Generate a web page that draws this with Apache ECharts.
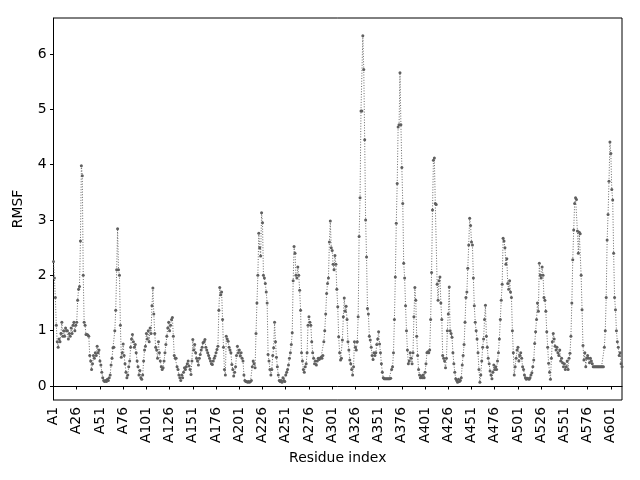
<!DOCTYPE html>
<html>
<head>
<meta charset="utf-8">
<title>RMSF</title>
<script src="https://cdn.jsdelivr.net/npm/echarts@6/dist/echarts.min.js"></script>
<style>
  html, body { margin: 0; padding: 0; background: #fff; }
  #chart { width: 640px; height: 480px; }
</style>
</head>
<body>
<div id="chart"></div>
<script>
// RMSF per residue, residues A1 .. A613 (index 0 .. 612)
var rmsf = [
  2.25, 1.95, 1.6, 1.1, 0.8, 0.7, 0.85, 0.8, 0.95, 1.15,
  0.9, 1.0, 0.9, 1.05, 1.0, 1.0, 0.85, 0.95, 0.9, 1.05,
  0.95, 1.1, 1.15, 1.0, 1.1, 1.15, 1.55, 1.75, 1.8, 2.62,
  3.98, 3.8, 2.0, 1.15, 1.1, 0.93, 0.93, 0.92, 0.9, 0.55,
  0.45, 0.3, 0.4, 0.55, 0.5, 0.6, 0.55, 0.72, 0.6, 0.65,
  0.45, 0.38, 0.25, 0.15, 0.1, 0.08, 0.1, 0.08, 0.12, 0.1,
  0.15, 0.2, 0.38, 0.5, 0.69, 0.7, 1.0, 1.37, 2.1, 2.84,
  2.1, 2.0, 1.1, 0.52, 0.6, 0.76, 0.55, 0.4, 0.25, 0.15,
  0.2, 0.35, 0.45, 0.7, 0.85, 0.93, 0.8, 0.7, 0.75, 0.6,
  0.45, 0.35, 0.2, 0.28, 0.15, 0.12, 0.2, 0.45, 0.65, 0.72,
  0.95, 0.85, 1.0, 0.8, 1.05, 0.95, 1.45, 1.77, 1.3, 0.95,
  0.7, 0.65, 0.5, 0.8, 0.6, 0.45, 0.35, 0.3, 0.33, 0.45,
  0.6, 0.75, 0.9, 1.05, 1.15, 1.0, 1.1, 1.2, 1.24, 0.9,
  0.55, 0.5, 0.5, 0.35, 0.3, 0.2, 0.15, 0.1, 0.2, 0.15,
  0.25, 0.33, 0.3, 0.35, 0.4, 0.45, 0.36, 0.3, 0.21, 0.45,
  0.84, 0.65, 0.75, 0.6, 0.5, 0.45, 0.38, 0.5, 0.57, 0.65,
  0.7, 0.78, 0.8, 0.84, 0.7, 0.65, 0.6, 0.55, 0.5, 0.45,
  0.4, 0.39, 0.45, 0.5, 0.54, 0.6, 0.66, 0.72, 1.37, 1.78,
  1.65, 1.7, 1.2, 0.7, 0.3, 0.2, 0.9, 0.85, 0.81, 0.7,
  0.65, 0.6, 0.39, 0.3, 0.18, 0.25, 0.35, 0.55, 0.72, 0.6,
  0.65, 0.54, 0.6, 0.5, 0.45, 0.2, 0.1, 0.08, 0.08, 0.07,
  0.08, 0.07, 0.08, 0.1, 0.35, 0.45, 0.4, 0.33, 0.95, 1.5,
  2.0, 2.76, 2.5, 2.35, 3.13, 2.95, 2.0, 1.95, 1.85, 1.7,
  1.5, 0.57, 0.45, 0.3, 0.2, 0.3, 0.55, 0.69, 1.15, 0.8,
  0.52, 0.35, 0.2, 0.1, 0.08, 0.1, 0.07, 0.15, 0.1, 0.08,
  0.2, 0.25, 0.3, 0.38, 0.5, 0.6, 0.75, 0.96, 1.9, 2.52,
  2.4, 2.0, 1.95, 2.15, 2.0, 1.73, 1.37, 0.6, 0.45, 0.3,
  0.25, 0.35, 0.4, 0.6, 1.1, 1.25, 1.15, 1.1, 0.8, 0.6,
  0.5, 0.4, 0.45, 0.38, 0.45, 0.5, 0.48, 0.5, 0.52, 0.5,
  0.55, 0.8, 1.0, 1.3, 1.67, 1.85, 1.95, 2.6, 2.98, 2.5,
  2.45, 2.2, 2.1, 2.36, 2.2, 1.75, 1.43, 0.89, 0.6, 0.47,
  0.5, 0.83, 1.25, 1.59, 1.35, 1.44, 1.2, 0.8, 0.65, 0.47,
  0.4, 0.3, 0.2, 0.35, 0.8, 0.7, 0.65, 0.8, 1.25, 2.7,
  3.4, 4.97, 4.97, 6.33, 5.72, 4.45, 3.0, 2.33, 1.4, 1.3,
  0.9, 0.83, 0.7, 0.55, 0.48, 0.6, 0.55, 0.6, 0.75, 0.85,
  0.98, 0.76, 0.6, 0.4, 0.25, 0.15, 0.13, 0.13, 0.13, 0.13,
  0.13, 0.13, 0.13, 0.14, 0.3, 0.35, 0.6, 1.2, 1.97, 2.94,
  3.66, 4.68, 4.72, 5.66, 4.72, 3.95, 3.3, 2.22, 1.95, 1.45,
  1.0, 0.65, 0.4, 0.45, 0.6, 0.5, 0.4, 0.6, 1.25, 1.78,
  1.55, 0.9, 0.55, 0.3, 0.2, 0.15, 0.18, 0.15, 0.2, 0.15,
  0.25, 0.4, 0.6, 0.62, 0.6, 0.65, 1.2, 2.05, 3.18, 4.08,
  4.12, 3.3, 3.28, 1.84, 1.55, 1.9, 1.97, 1.5, 1.2, 0.55,
  0.5, 0.45, 0.33, 0.5, 1.0, 1.3, 1.79, 1.0, 0.95, 0.88,
  0.6, 0.4, 0.25, 0.13, 0.1, 0.07, 0.12, 0.08, 0.1, 0.15,
  0.38, 0.55, 0.75, 1.15, 1.6, 1.7, 2.13, 2.55, 3.03, 2.9,
  2.6, 2.55, 1.95, 1.45, 1.15, 1.0, 0.85, 0.6, 0.3, 0.07,
  0.2, 0.45, 0.7, 0.85, 1.2, 1.46, 0.9, 0.7, 0.5, 0.4,
  0.27, 0.2, 0.13, 0.25, 0.38, 0.3, 0.35, 0.3, 0.45, 0.6,
  0.85, 1.2, 1.55, 1.84, 2.67, 2.62, 2.5, 2.2, 2.3, 1.85,
  1.75, 1.9, 1.7, 1.6, 1.0, 0.6, 0.2, 0.35, 0.5, 0.65,
  0.7, 0.45, 0.55, 0.6, 0.5, 0.35, 0.3, 0.2, 0.15, 0.12,
  0.14, 0.13, 0.12, 0.15, 0.2, 0.24, 0.35, 0.47, 0.77, 0.98,
  1.2, 1.5, 1.35, 2.22, 2.0, 1.95, 2.15, 2.0, 1.6, 1.55,
  1.35, 0.98, 0.7, 0.41, 0.25, 0.12, 0.5, 0.8, 0.95, 0.85,
  0.72, 0.65, 0.7, 0.6, 0.55, 0.65, 0.45, 0.5, 0.42, 0.35,
  0.4, 0.3, 0.35, 0.45, 0.3, 0.5, 0.59, 0.9, 1.5, 2.28,
  2.82, 3.3, 3.4, 3.37, 2.8, 2.4, 2.78, 2.75, 2.0, 1.38,
  0.73, 0.47, 0.6, 0.35, 0.5, 0.55, 0.5, 0.42, 0.5, 0.45,
  0.4, 0.35, 0.35, 0.35, 0.35, 0.35, 0.35, 0.35, 0.35, 0.35,
  0.35, 0.35, 0.35, 0.7, 1.0, 1.6, 2.64, 3.1, 3.7, 4.41,
  4.2, 3.55, 3.36, 2.4, 1.6, 1.38, 1.0, 0.8, 0.7, 0.55,
  0.6, 0.4, 0.35
];

// residue labels, one per residue
var residues = rmsf.map(function (v, i) { return 'A' + (i + 1); });

// tick positions (residue index) and y ticks
var xTicks = [0, 25, 50, 75, 100, 125, 150, 175, 200, 225, 250, 275, 300,
              325, 350, 375, 400, 425, 450, 475, 500, 525, 550, 575, 600];
var yTicks = [0, 1, 2, 3, 4, 5, 6];

var points = rmsf.map(function (v, i) { return [i, v]; });

var chart = echarts.init(document.getElementById('chart'));

var font = 'DejaVu Sans';

var option = {
  animation: false,
  backgroundColor: '#fff',
  grid: {
    left: 53.5, right: 18, top: 18, bottom: 80,
    show: true, borderColor: '#000', borderWidth: 1, backgroundColor: 'transparent'
  },
  xAxis: {
    type: 'value',
    min: 0,
    max: rmsf.length - 1,
    name: 'Residue index',
    nameLocation: 'middle',
    nameGap: 50,
    nameTextStyle: { color: '#000', fontFamily: font, fontSize: 13.9 },
    axisLine: { lineStyle: { color: '#000', width: 1 } },
    axisTick: { length: 3.5, lineStyle: { color: '#000' }, customValues: xTicks },
    axisLabel: {
      customValues: xTicks,
      rotate: 90,
      margin: 7,
      color: '#000',
      fontFamily: font,
      fontSize: 13.9,
      formatter: function (v) { return residues[Math.round(v)]; }
    },
    splitLine: { show: false }
  },
  yAxis: {
    type: 'value',
    min: -0.253,
    max: 6.65,
    name: 'RMSF',
    nameLocation: 'middle',
    nameGap: 28,
    nameTextStyle: { color: '#000', fontFamily: font, fontSize: 13.9 },
    axisLine: { show: true, lineStyle: { color: '#000', width: 1 } },
    axisTick: { show: true, length: 3.5, lineStyle: { color: '#000' }, customValues: yTicks },
    axisLabel: {
      customValues: yTicks,
      margin: 7,
      color: '#000',
      fontFamily: font,
      fontSize: 13.9
    },
    splitLine: { show: false }
  },
  series: [{
    type: 'line',
    data: points,
    symbol: 'circle',
    symbolSize: 3,
    showAllSymbol: true,
    itemStyle: { color: '#5f5f5f' },
    lineStyle: { color: '#6a6a6a', width: 1, type: [1, 1.65] }
  }]
};

chart.setOption(option);
</script>
</body>
</html>
